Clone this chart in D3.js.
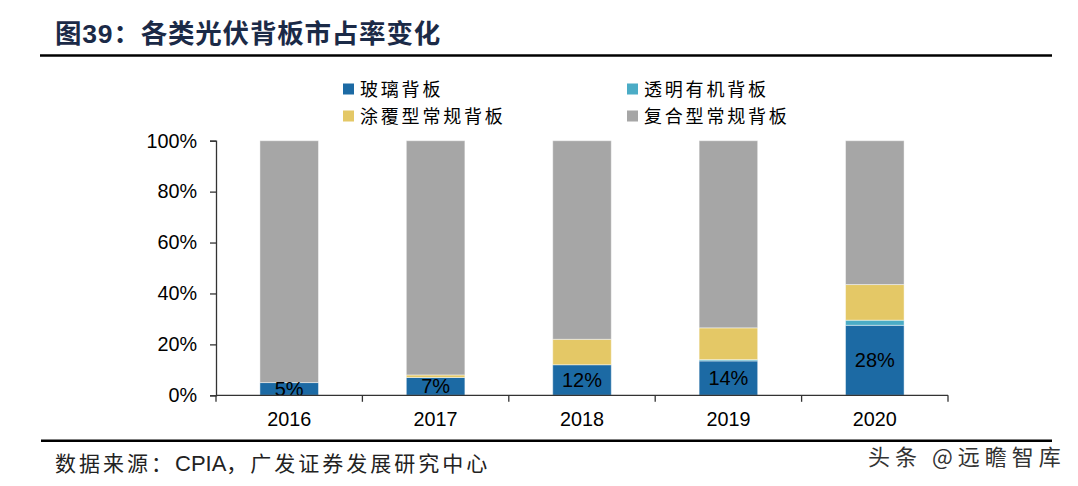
<!DOCTYPE html>
<html>
<head>
<meta charset="utf-8">
<script src="https://cdn.jsdelivr.net/npm/d3@7/dist/d3.min.js"></script>
<style>
  html, body { margin: 0; padding: 0; background: #fff; }
  svg { display: block; }
</style>
</head>
<body>
<svg id="chart" width="1078" height="486"></svg>
<script>
// ---- data ----
const categories = ["2016", "2017", "2018", "2019", "2020"];
const seriesNames = ["玻璃背板", "透明有机背板", "涂覆型常规背板", "复合型常规背板"];
const glass = [5, 7, 12, 13.5, 27.5];
const transparent = [0, 0, 0, 0.5, 2];
const coated = [0, 1, 10, 12.5, 14];
const composite = [95, 92, 78, 73.5, 56.5];
const glassLabels = ["5%", "7%", "12%", "14%", "28%"];
const yTicks = [0, 20, 40, 60, 80, 100];
const colors = ["#1C6AA4", "#4BACC6", "#E4C866", "#A6A6A6"];

const cjk = "'Noto Sans CJK SC', sans-serif";
const latin = "'Liberation Sans', Arial, sans-serif";

const svg = d3.select("#chart");

// title
const title = svg.append("text")
  .attr("x", 55).attr("y", 43)
  .attr("fill", "#1B2A47")
  .attr("font-weight", "bold")
  .attr("font-size", 26.5)
  .attr("letter-spacing", 0.8)
  .attr("font-family", cjk);
title.append("tspan").text("图");
title.append("tspan").attr("font-family", latin).text("39");
title.append("tspan").text("：各类光伏背板市占率变化");

svg.append("line").attr("x1", 40).attr("x2", 1052).attr("y1", 55.5).attr("y2", 55.5)
  .attr("stroke", "#000").attr("stroke-width", 2.5);
svg.append("line").attr("x1", 41).attr("x2", 1052).attr("y1", 440.7).attr("y2", 440.7)
  .attr("stroke", "#000").attr("stroke-width", 2.5);

// scales
const x = d3.scaleBand().domain(categories).range([216, 948]).paddingInner(0.6).paddingOuter(0.3);
const y = d3.scaleLinear().domain([0, 100]).range([395.3, 140.7]);

// stack
const rows = categories.map((c, i) => ({
  cat: c,
  [seriesNames[0]]: glass[i],
  [seriesNames[1]]: transparent[i],
  [seriesNames[2]]: coated[i],
  [seriesNames[3]]: composite[i]
}));
const stacked = d3.stack().keys(seriesNames)(rows);

const g = svg.append("g");
stacked.forEach((layer, li) => {
  g.selectAll(null).data(layer).join("rect")
    .attr("x", d => x(d.data.cat))
    .attr("width", x.bandwidth())
    .attr("y", d => y(d[1]))
    .attr("height", d => Math.max(0, y(d[0]) - y(d[1])))
    .attr("fill", colors[li])
    .attr("stroke", d => (d[1] - d[0]) > 0 ? "rgba(255,255,255,0.45)" : "none")
    .attr("stroke-width", 1);
});

// data labels for glass
g.selectAll(null).data(stacked[0]).join("text")
  .attr("x", d => x(d.data.cat) + x.bandwidth() / 2)
  .attr("y", d => (y(d[0]) + y(d[1])) / 2 + 7)
  .attr("text-anchor", "middle")
  .attr("font-family", latin)
  .attr("font-size", 20)
  .attr("fill", "#000")
  .text((d, i) => glassLabels[i]);

// y axis
const yAxis = d3.axisLeft(y).tickValues(yTicks).tickSize(6).tickPadding(13).tickFormat(d => d + "%");
const ya = svg.append("g").attr("transform", "translate(216,0)").call(yAxis);
ya.select(".domain").attr("stroke", "#333").attr("stroke-width", 1.3);
ya.selectAll(".tick line").attr("stroke", "#333").attr("stroke-width", 1.3);
ya.selectAll(".tick text").attr("font-family", latin).attr("font-size", 19.8).attr("fill", "#000");

// x axis
const xAxis = d3.axisBottom(x).tickSize(0).tickPadding(17);
const xa = svg.append("g").attr("transform", "translate(0,395.3)").call(xAxis);
xa.select(".domain").attr("stroke", "#333").attr("stroke-width", 1.3).attr("d", "M216,0H948");
xa.selectAll(".tick text").attr("font-family", latin).attr("font-size", 19.8).attr("fill", "#000");
// boundary tick marks
const bounds = categories.map(c => x(c) - x.step() * x.paddingInner() / 2).concat([948]);
xa.selectAll(null).data(bounds).join("line")
  .attr("x1", d => d).attr("x2", d => d).attr("y1", 0).attr("y2", 6.5)
  .attr("stroke", "#333").attr("stroke-width", 1.3);

// legend
const legendPos = [[343, 89], [627, 89], [343, 116], [627, 116]];
const lg = svg.append("g");
seriesNames.forEach((name, i) => {
  const [lx, ly] = legendPos[i];
  lg.append("rect").attr("x", lx).attr("y", ly - 5.5).attr("width", 11).attr("height", 11).attr("fill", colors[i]);
  lg.append("text").attr("x", lx + 17).attr("y", ly + 6.5)
    .attr("font-family", cjk).attr("font-size", 18).attr("letter-spacing", 2.8)
    .attr("fill", "#000").text(name);
});

// source
const src = svg.append("text").attr("x", 55).attr("y", 471)
  .attr("font-family", cjk).attr("font-size", 21).attr("letter-spacing", 3)
  .attr("fill", "#222");
src.append("tspan").text("数据来源：");
src.append("tspan").attr("font-family", latin).attr("font-size", 22).attr("letter-spacing", 0).text("CPIA");
src.append("tspan").text("，广发证券发展研究中心");

// watermark
svg.append("text").attr("x", 868).attr("y", 465)
  .attr("font-family", cjk).attr("font-size", 22).attr("letter-spacing", 5)
  .attr("fill", "#333")
  .text("头条 @远瞻智库");
</script>
</body>
</html>
